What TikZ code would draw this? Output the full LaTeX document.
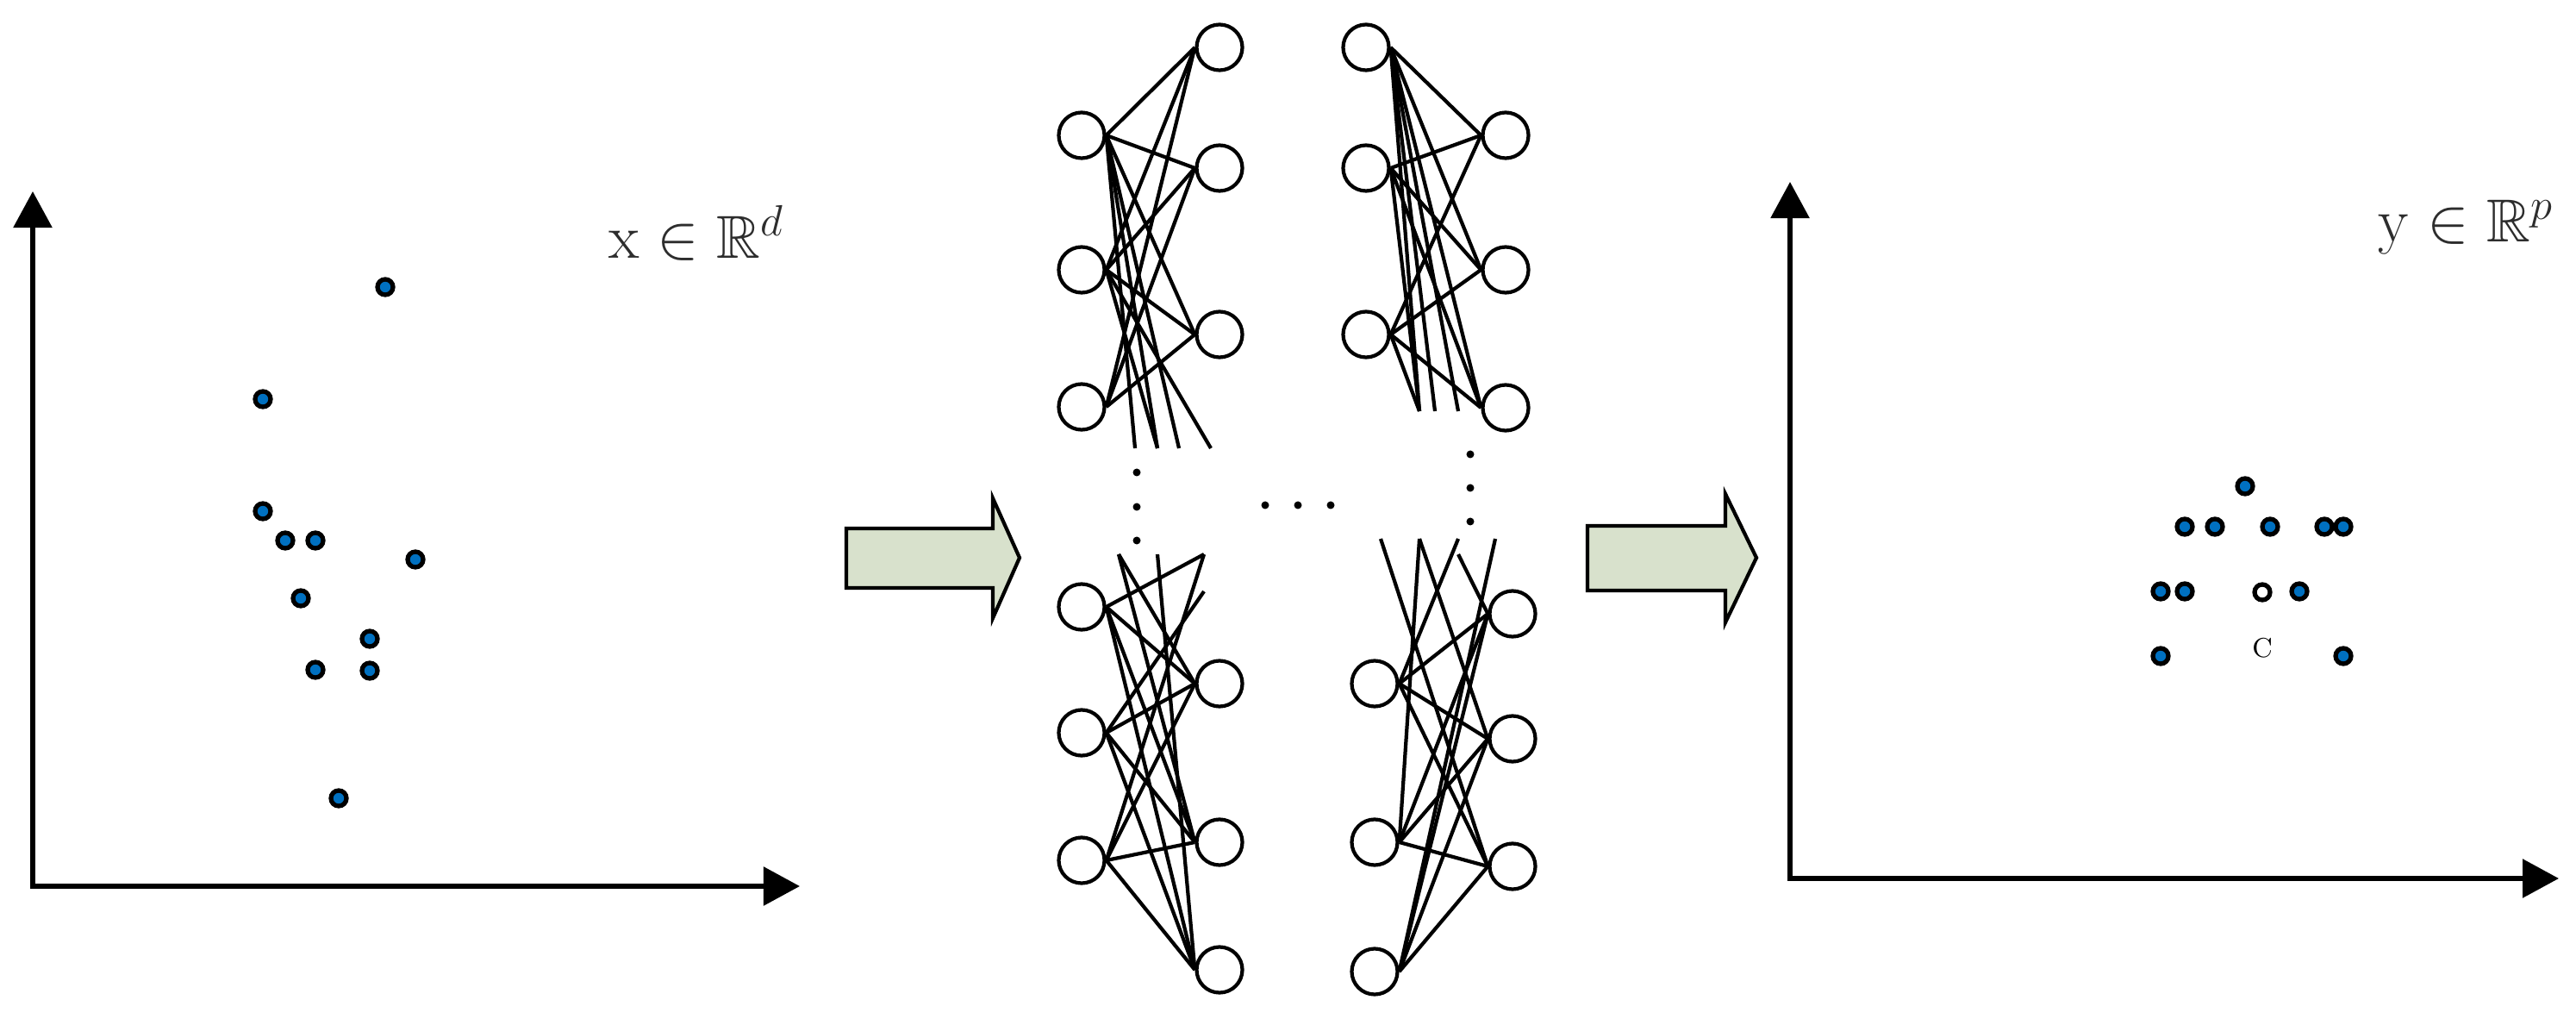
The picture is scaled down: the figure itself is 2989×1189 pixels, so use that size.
\documentclass[tikz,border=0pt]{standalone}
\usepackage{amsmath}
\usepackage{amssymb}
\usepackage{xcolor}
\usepackage{tikz}
\usetikzlibrary{positioning,arrows.meta}
\definecolor{pointblue}{RGB}{0,112,192}
\definecolor{arrowfill}{RGB}{216,225,204}
\definecolor{labelgray}{RGB}{45,45,45}

\begin{document}
\begin{tikzpicture}[
        x=0.01cm, y=-0.01cm,
        neuron/.style={draw, circle, line width=1.2pt, minimum size=0.53cm, inner sep=0pt},
        sample/.style={draw, circle, line width=1.5pt, fill=pointblue, minimum size=0.18cm, inner sep=0pt},
        centre/.style={sample, fill=white},
        axis/.style={line width=1.6pt, {Triangle[length=0.42cm,width=0.44cm]}-{Triangle[length=0.42cm,width=0.44cm]}},
        link/.style={line width=1.2pt},
        bigarrow/.style={draw, line width=1.2pt, fill=arrowfill},
        space/.style={font=\fontsize{20}{24}\selectfont, text=labelgray, inner sep=0pt, anchor=base west}
    ]
    \useasboundingbox (0,0) rectangle (2989,1189);

    \coordinate (xo) at (38,1028);
    \coordinate (xtop) at (38,222);
    \coordinate (xright) at (928,1028);
    \draw[axis] (xtop) -- (xo) -- (xright);
    \node[space] (xlabel) at (706,300) {$\mathrm{x}\in\mathbb{R}^{d}$};
    \foreach \px/\py [count=\i] in {447/333, 305/463, 305/593, 331/627, 366/627, 482/649,
            349/694, 429/741, 366/777, 429/778, 393/926}
        \node[sample] (xs\i) at (\px,\py) {};

    \draw[bigarrow] (982,613) -- (1152,613) -- (1152,578) -- (1183,647) -- (1152,717) -- (1152,682) -- (982,682) -- cycle;
    \draw[bigarrow] (1842,610) -- (2002,610) -- (2002,573) -- (2038,647) -- (2002,722) -- (2002,685) -- (1842,685) -- cycle;

    \node[neuron] (aL1) at (1255,157) {};
    \node[neuron] (aL2) at (1255,313) {};
    \node[neuron] (aL3) at (1255,472) {};
    \node[neuron] (aR1) at (1415,55) {};
    \node[neuron] (aR2) at (1415,195) {};
    \node[neuron] (aR3) at (1415,388) {};
    \node[neuron] (bL1) at (1585,55) {};
    \node[neuron] (bL2) at (1585,195) {};
    \node[neuron] (bL3) at (1585,388) {};
    \node[neuron] (bR1) at (1747,157) {};
    \node[neuron] (bR2) at (1747,313) {};
    \node[neuron] (bR3) at (1747,473) {};
    \node[neuron] (cL1) at (1255,704) {};
    \node[neuron] (cL2) at (1255,850) {};
    \node[neuron] (cL3) at (1255,998) {};
    \node[neuron] (cR1) at (1415,793) {};
    \node[neuron] (cR2) at (1415,977) {};
    \node[neuron] (cR3) at (1415,1125) {};
    \node[neuron] (dL1) at (1595,793) {};
    \node[neuron] (dL2) at (1595,977) {};
    \node[neuron] (dL3) at (1595,1127) {};
    \node[neuron] (dR1) at (1755,712) {};
    \node[neuron] (dR2) at (1755,857) {};
    \node[neuron] (dR3) at (1755,1005) {};

    \foreach \n in {a,b,c,d}
        \foreach \i in {1,2,3}
            \foreach \j in {1,2,3}
                \draw[link] (\n L\i.east) -- (\n R\j.west);

    \coordinate (aD1) at (1317,520);
    \coordinate (aD2) at (1343,520);
    \coordinate (aD3) at (1368,520);
    \coordinate (aD4) at (1405,520);
    \coordinate (bD1) at (1647,477);
    \coordinate (bD2) at (1665,477);
    \coordinate (bD3) at (1692,477);
    \coordinate (cD1) at (1298,643);
    \coordinate (cD2) at (1343,643);
    \coordinate (cD3) at (1397,643);
    \coordinate (cD4) at (1397,686);
    \coordinate (dD1) at (1602,625);
    \coordinate (dD2) at (1647,625);
    \coordinate (dD3) at (1692,625);
    \coordinate (dD4) at (1735,625);
    \coordinate (dD5) at (1692,643);

    \draw[link] (aL1.east) -- (aD1);
    \draw[link] (aL1.east) -- (aD2);
    \draw[link] (aL1.east) -- (aD3);
    \draw[link] (aL2.east) -- (aD2);
    \draw[link] (aL2.east) -- (aD4);
    \draw[link] (bL1.east) -- (bD1);
    \draw[link] (bL1.east) -- (bD2);
    \draw[link] (bL1.east) -- (bD3);
    \draw[link] (bL2.east) -- (bD1);
    \draw[link] (bL3.east) -- (bD1);
    \draw[link] (cD1) -- (cR1.west);
    \draw[link] (cD1) -- (cR2.west);
    \draw[link] (cD2) -- (cR3.west);
    \draw[link] (cD3) -- (cL1.east);
    \draw[link] (cD3) -- (cL3.east);
    \draw[link] (cD4) -- (cL2.east);
    \draw[link] (dD1) -- (dR3.west);
    \draw[link] (dD2) -- (dL2.east);
    \draw[link] (dD2) -- (dR2.west);
    \draw[link] (dD3) -- (dL1.east);
    \draw[link] (dD4) -- (dL3.east);
    \draw[link] (dD5) -- (dR1.west);

    \foreach \px/\py in {1319/548, 1319/588, 1319/627, 1468/586, 1506/586, 1544/586,
            1706/527, 1706/566, 1706/605}
        \fill (\px,\py) circle (0.045cm);

    \coordinate (yo) at (2077,1019);
    \coordinate (ytop) at (2077,211);
    \coordinate (yright) at (2969,1019);
    \draw[axis] (ytop) -- (yo) -- (yright);
    \node[space] (ylabel) at (2759,281) {$\mathrm{y}\in\mathbb{R}^{p}$};
    \foreach \px/\py [count=\i] in {2605/564, 2535/611, 2570/611, 2634/611, 2697/611, 2719/611,
            2507/686, 2535/686, 2668/686, 2507/761, 2719/761}
        \node[sample] (ys\i) at (\px,\py) {};
    \node[centre] (ycentre) at (2625,687) {};
    \node[font=\fontsize{9}{10}\selectfont, inner sep=0pt] (clabel) at (2625,752) {C};
\end{tikzpicture}
\end{document}
